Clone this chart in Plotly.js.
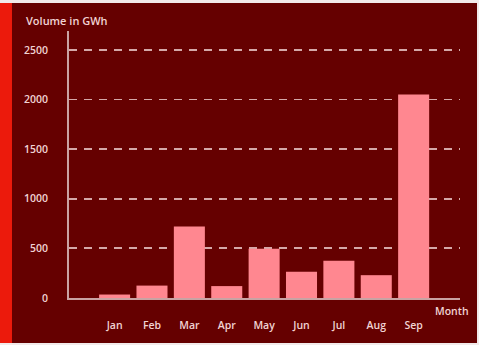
<!DOCTYPE html>
<html>
<head>
<meta charset="utf-8">
<script src="https://cdn.plot.ly/plotly-3.0.1.min.js"></script>
<style>html,body{margin:0;padding:0;background:#f2eaea;}#chart{width:479px;height:345px;}</style>
</head>
<body>
<div id="chart"></div>
<script>
var months = ["Jan", "Feb", "Mar", "Apr", "May", "Jun", "Jul", "Aug", "Sep"];
var volumes = [35, 125, 720, 120, 495, 265, 375, 230, 2050];
var yTicks = [0, 500, 1000, 1500, 2000, 2500];

var fontFam = "'Open Sans', Lato, sans-serif";
var txtCol = "#f1d3d3";

var trace = {
  type: "bar",
  x: months,
  y: volumes,
  marker: {color: "#ff8790", line: {width: 0}},
  hoverinfo: "x+y"
};

var layout = {
  width: 479,
  height: 345,
  margin: {l: 69, r: 19, t: 31, b: 47, pad: 0},
  paper_bgcolor: "#f2eaea",
  plot_bgcolor: "rgba(0,0,0,0)",
  bargap: 0.17,
  showlegend: false,
  font: {family: fontFam, color: txtCol, size: 10.5, weight: 600},
  xaxis: {
    type: "category",
    range: [-1.22, 9.24],
    showgrid: false,
    zeroline: false,
    showline: true,
    linecolor: "#c9a3a3",
    linewidth: 2,
    ticks: "",
    ticklabelstandoff: 16,
    tickfont: {family: fontFam, color: txtCol, size: 10.5, weight: 600}
  },
  yaxis: {
    range: [0, 2690],
    tickvals: yTicks,
    ticktext: yTicks.map(String),
    showgrid: true,
    gridcolor: "#d4a8a8",
    gridwidth: 1.8,
    griddash: "8px,7px",
    zeroline: false,
    showline: true,
    linecolor: "#c9a3a3",
    linewidth: 2,
    ticks: "",
    ticklabelstandoff: 17,
    tickfont: {family: fontFam, color: txtCol, size: 10.5, weight: 600}
  },
  shapes: [
    {type: "rect", xref: "paper", yref: "paper", x0: -0.1765, x1: 1.0435, y0: -0.1685, y1: 1.1049,
     fillcolor: "#650000", line: {width: 0}, layer: "below"},
    {type: "rect", xref: "paper", yref: "paper", x0: -0.1765, x1: -0.1458, y0: -0.1685, y1: 1.1049,
     fillcolor: "#ec1a0c", line: {width: 0}, layer: "below"}
  ],
  annotations: [
    {text: "Volume in GWh", xref: "paper", yref: "paper", x: -0.114, y: 1.041,
     xanchor: "left", yanchor: "middle", showarrow: false,
     font: {family: fontFam, color: txtCol, size: 11, weight: 600}},
    {text: "Month", xref: "paper", yref: "paper", x: 0.93, y: -0.015,
     xanchor: "left", yanchor: "top", showarrow: false,
     font: {family: fontFam, color: txtCol, size: 10.5, weight: 600}}
  ]
};

Plotly.newPlot("chart", [trace], layout, {displayModeBar: false, staticPlot: true});
</script>
</body>
</html>
